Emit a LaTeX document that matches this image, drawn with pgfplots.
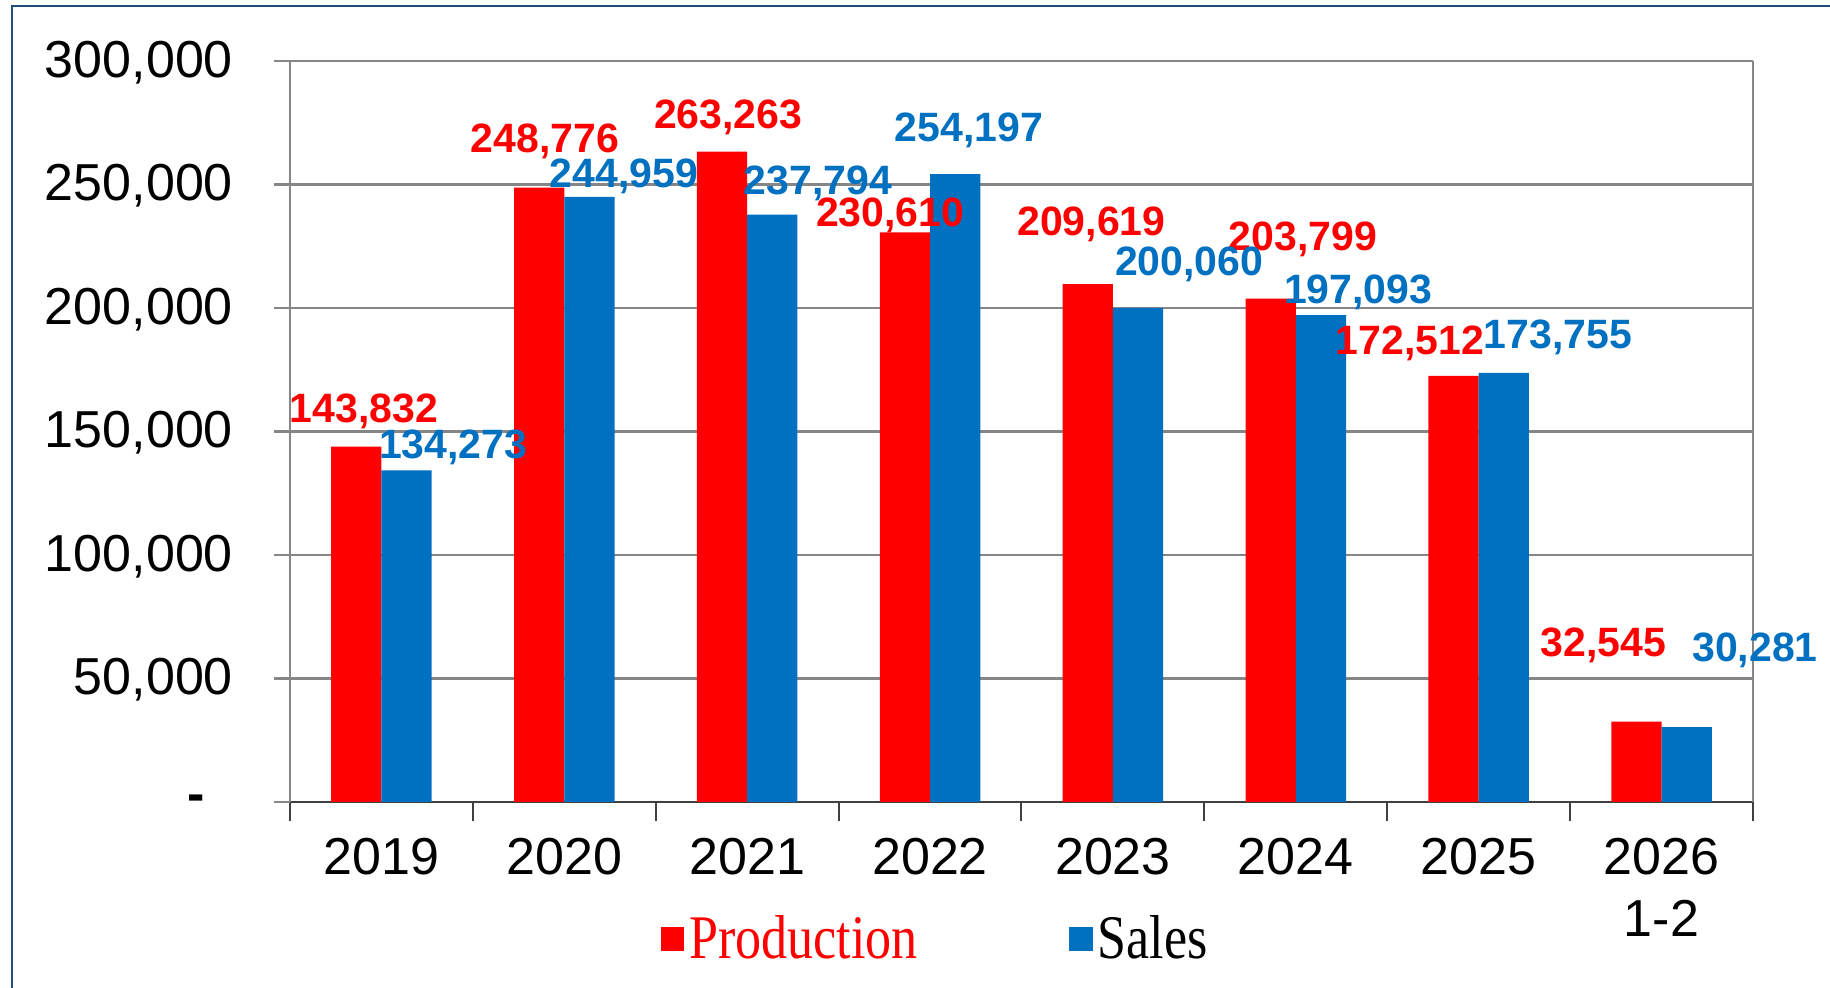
\documentclass[border=0pt]{standalone}
\usepackage{fontspec}
\setmainfont{Liberation Sans}
\newfontfamily\serifleg{Liberation Serif}
\usepackage{graphicx}
\usepackage{pgfplots}
\usepackage{pgfplotstable}
\pgfplotsset{compat=1.18}
\definecolor{pred}{RGB}{255,0,0}
\definecolor{sblue}{RGB}{0,112,192}
\definecolor{framec}{RGB}{31,78,121}
\definecolor{gridc}{RGB}{134,134,134}

\pgfplotstableread{
x prod sales
0 143832 134273
1 248776 244959
2 263263 237794
3 230610 254197
4 209619 200060
5 203799 197093
6 172512 173755
7 32545 30281
}\bardata

\pgfplotstableread{
x y label
-0.095 158260 143,832
0.893 267380 248,776
1.896 277300 263,263
2.782 237620 230,610
3.882 233840 209,619
5.039 227700 203,799
5.625 185650 172,512
6.683 63300 32,545
}\prodlabels

\pgfplotstableread{
x y label
0.392 143600 134,273
1.326 253200 244,959
2.387 250370 237,794
3.213 272100 254,197
4.417 217780 200,060
5.341 206440 197,093
6.434 188020 173,755
7.511 61410 30,281
}\saleslabels

\newcommand{\zerolabel}{\raisebox{-1pt}{\textbf{-}}\rule{8.5pt}{0pt}}

\begin{document}
\begin{tikzpicture}
\useasboundingbox (0,0) rectangle (549pt,296.4pt);
\draw[framec, line width=0.7pt] (3.5pt,-20pt) -- (3.5pt,294.6pt) -- (600pt,294.6pt);
\begin{axis}[
  at={(87pt,55.8pt)}, anchor=south west,
  width=438.9pt, height=222.3pt, scale only axis,
  clip=false,
  xmin=-0.5, xmax=7.5, ymin=0, ymax=300000,
  axis x line*=bottom, axis y line*=box,
  x axis line style={draw=black!75, line width=0.8pt},
  y axis line style={draw=gridc, line width=0.7pt},
  ybar=0pt, bar width=0.275,
  xtick={0,...,7},
  xticklabels={2019,2020,2021,2022,2023,2024,2025,{2026\\1-2}},
  major x tick style={draw=none},
  minor xtick={-0.5,0.5,...,7.5},
  minor x tick style={draw=black!75, line width=0.6pt},
  minor tick length=5.7pt,
  tick align=outside,
  ytick pos=left,
  ytick={0,50000,...,300000},
  yticklabels={\zerolabel,{50,000},{100,000},{150,000},{200,000},{250,000},{300,000}},
  major tick length=4.8pt,
  ytick style={draw=gridc, line width=0.7pt},
  ymajorgrids, major grid style={draw=gridc, line width=0.7pt},
  scaled y ticks=false,
  tick label style={font=\fontsize{15.6}{18.7}\selectfont},
  yticklabel style={xshift=-8.8pt, yshift=-0.5pt},
  xticklabel style={align=center, yshift=-2.5pt},
  legend style={at={(0.442,-0.185)}, anchor=center, draw=none, fill=none,
    legend columns=2, /tikz/every even column/.append style={column sep=44pt},
    font=\serifleg\fontsize{18.6}{20}\selectfont, nodes={inner sep=1.5pt}},
  legend image code/.code={\draw[#1,draw=none] (0pt,-3.5pt) rectangle (7pt,3.5pt);},
]
\addplot[fill=pred, draw=none] table[x=x, y=prod] {\bardata};
\addlegendentry{\textcolor{pred}{\scalebox{0.84}[1]{Production}}}
\addplot[fill=sblue, draw=none] table[x=x, y=sales] {\bardata};
\addlegendentry{\scalebox{0.84}[1]{Sales}}
\end{axis}
\begin{axis}[
  at={(87pt,55.8pt)}, anchor=south west,
  width=438.9pt, height=222.3pt, scale only axis,
  clip=false, hide axis,
  xmin=-0.5, xmax=7.5, ymin=0, ymax=300000,
]
\addplot[only marks, mark=none, nodes near coords, point meta=explicit symbolic,
  every node near coord/.style={anchor=center, text=pred, font=\bfseries\fontsize{12.3}{14}\selectfont}]
  table[x=x, y=y, meta=label] {\prodlabels};
\addplot[only marks, mark=none, nodes near coords, point meta=explicit symbolic,
  every node near coord/.style={anchor=center, text=sblue, font=\bfseries\fontsize{12.3}{14}\selectfont}]
  table[x=x, y=y, meta=label] {\saleslabels};
\end{axis}
\end{tikzpicture}
\end{document}
